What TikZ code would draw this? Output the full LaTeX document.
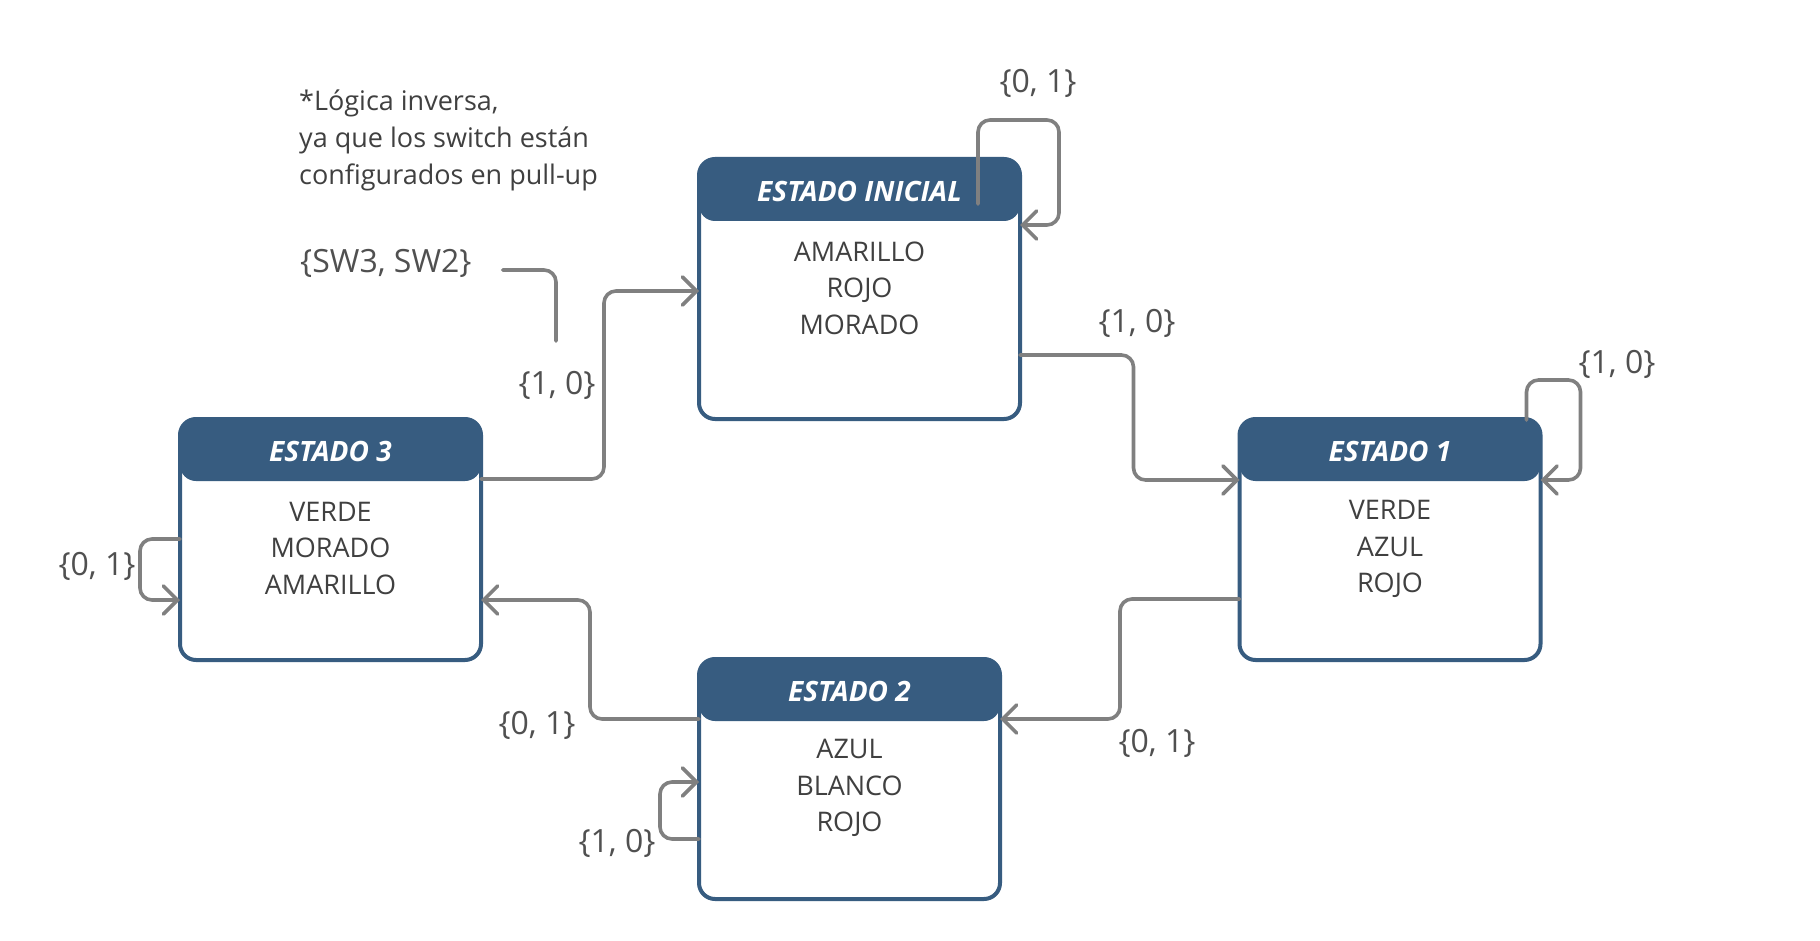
\documentclass[tikz,border=0pt]{standalone}
\usepackage{fontspec}
\setmainfont{Open Sans}
\usetikzlibrary{arrows.meta,calc}
\definecolor{hdr}{HTML}{375C80}
\definecolor{conn}{HTML}{808080}
\definecolor{txt}{HTML}{404040}
\definecolor{lbl}{HTML}{505050}
\begin{document}
\begin{tikzpicture}[x=1pt,y=-1pt,
  statebox/.style={draw=hdr, line width=4pt, rounded corners=16pt, fill=white,
    inner sep=0pt, outer sep=0pt,
    path picture={\fill[hdr] (path picture bounding box.north west) rectangle ([yshift=-62pt]path picture bounding box.north east);}},
  hdrtext/.style={text=white, font=\fontsize{28}{30}\selectfont\bfseries\itshape, inner sep=0pt},
  bodytext/.style={text=txt, font=\fontsize{27}{36.5}\selectfont, align=center, inner sep=0pt},
  lbltext/.style={text=lbl, font=\fontsize{32}{36}\selectfont, inner sep=0pt},
  conn/.style={draw=conn, line width=3.6pt, rounded corners=12pt, line cap=round, line join=round},
  arr/.style={-{Straight Barb[length=14pt,width=28pt,line cap=round]}}
]
\useasboundingbox (0,0) rectangle (1820,941);
\fill[white] (0,0) rectangle (1820,941);

% states
\node[statebox, minimum width=321pt, minimum height=260pt] (s0) at (859.5,289) {};
\node[statebox, minimum width=301pt, minimum height=241pt] (s3) at (330.5,539.5) {};
\node[statebox, minimum width=301pt, minimum height=241pt] (s1) at (1390,539.5) {};
\node[statebox, minimum width=301pt, minimum height=240pt] (s2) at (849.5,779) {};

% headers
\node[hdrtext] (h0) at ([yshift=-32pt]s0.north) {ESTADO INICIAL};
\node[hdrtext] (h3) at ([yshift=-32pt]s3.north) {ESTADO 3};
\node[hdrtext] (h1) at ([yshift=-32pt]s1.north) {ESTADO 1};
\node[hdrtext] (h2) at ([yshift=-32pt]s2.north) {ESTADO 2};

% bodies
\node[bodytext] (b0) at ([yshift=-129pt]s0.north) {AMARILLO\\ROJO\\MORADO};
\node[bodytext] (b3) at ([yshift=-129pt]s3.north) {VERDE\\MORADO\\AMARILLO};
\node[bodytext] (b1) at ([yshift=-130pt]s1.north) {VERDE\\AZUL\\ROJO};
\node[bodytext] (b2) at ([yshift=-129pt]s2.north) {AZUL\\BLANCO\\ROJO};

% comment and input label
\node[text=txt, font=\fontsize{27}{37}\selectfont, align=left, anchor=west, inner sep=0pt] (note) at (299,140.5)
  {*Lógica inversa,\\ya que los switch están\\configurados en pull-up};
\node[lbltext, anchor=west] (sw) at (300,263) {\{SW3, SW2\}};
\coordinate (swa) at ($(sw.east)+(31,7)$);
\coordinate (swb) at (556,341);
\draw[conn] (swa) -| (swb);

% transitions
\draw[conn, arr] ($(s3.north east)+(0,60)$) -| ($(s0.north west)+(-95,132)$) -- ($(s0.north west)+(0,132)$);
\draw[conn, arr] ($(s0.north east)+(-42,45)$) -- ($(s0.north east)+(-42,-39)$) -- ($(s0.north east)+(39,-39)$)
   -- ($(s0.north east)+(39,66)$) -- ($(s0.north east)+(0,66)$);
\draw[conn, arr] ($(s0.north east)+(0,196)$) -| ($(s1.north west)+(-106,61)$) -- ($(s1.north west)+(0,61)$);
\draw[conn, arr] ($(s1.north east)+(-14,1)$) -- ($(s1.north east)+(-14,-39)$) -- ($(s1.north east)+(40,-39)$)
   -- ($(s1.north east)+(40,61)$) -- ($(s1.north east)+(0,61)$);
\draw[conn, arr] ($(s1.north west)+(0,180)$) -| ($(s2.north east)+(120,60)$) -- ($(s2.north east)+(0,60)$);
\draw[conn, arr] ($(s2.north west)+(0,60)$) -| ($(s3.north east)+(109,181)$) -- ($(s3.north east)+(0,181)$);
\draw[conn, arr] ($(s2.north west)+(0,180)$) -- ($(s2.north west)+(-39,180)$) -- ($(s2.north west)+(-39,123)$)
   -- ($(s2.north west)+(0,123)$);
\draw[conn, arr] ($(s3.north west)+(0,120)$) -- ($(s3.north west)+(-40,120)$) -- ($(s3.north west)+(-40,181)$)
   -- ($(s3.north west)+(0,181)$);

% labels
\node[lbltext] (l1) at (557,385) {\{1, 0\}};
\node[lbltext] (l2) at (1038,83) {\{0, 1\}};
\node[lbltext] (l3) at (1137,323) {\{1, 0\}};
\node[lbltext] (l4) at (1617,364) {\{1, 0\}};
\node[lbltext] (l5) at (1157,743) {\{0, 1\}};
\node[lbltext] (l6) at (537,725) {\{0, 1\}};
\node[lbltext] (l7) at (617,843) {\{1, 0\}};
\node[lbltext] (l8) at (97,566) {\{0, 1\}};
\end{tikzpicture}
\end{document}
